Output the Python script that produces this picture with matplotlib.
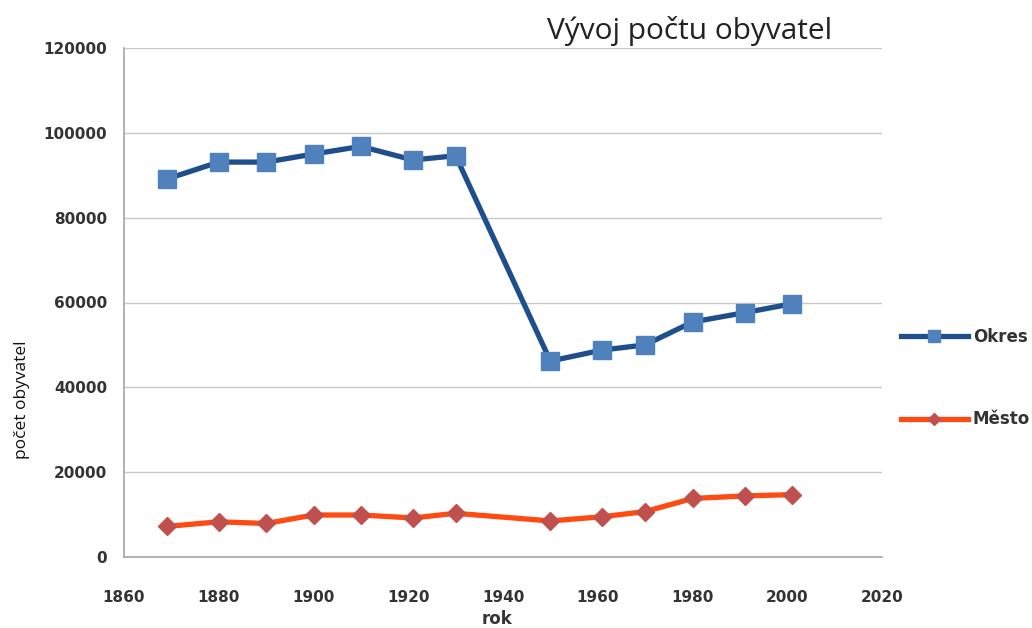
import matplotlib
matplotlib.use("Agg")
import matplotlib.pyplot as plt
from matplotlib.lines import Line2D

years = [1869, 1880, 1890, 1900, 1910, 1921, 1930, 1950, 1961, 1970, 1980, 1991, 2001]
okres = [89100, 93100, 93100, 95000, 96800, 93600, 94600, 46200, 48800, 50000, 55400, 57600, 59700]
mesto = [7200, 8300, 7900, 9900, 9900, 9200, 10300, 8500, 9500, 10700, 13800, 14400, 14700]
x_ticks = [1860, 1880, 1900, 1920, 1940, 1960, 1980, 2000, 2020]
y_ticks = [0, 20000, 40000, 60000, 80000, 100000, 120000]

title = "Vývoj počtu obyvatel"
xlabel = "rok"
ylabel = "počet obyvatel"
series_names = ["Okres", "Město"]

plt.rcParams['font.family'] = ['DejaVu Sans']

fig = plt.figure(figsize=(10.32, 6.28), dpi=100)
ax = fig.add_axes([124/1032, 1-557/628, (882-124)/1032, (557-48)/628])

okres_line = "#1f4e8c"
okres_marker = "#4f81bd"
mesto_line = "#ff4a12"
mesto_marker = "#c0504d"

ax.plot(years, okres, color=okres_line, lw=3.8, marker='s', markersize=13,
        markerfacecolor=okres_marker, markeredgecolor=okres_marker, zorder=3)
ax.plot(years, mesto, color=mesto_line, lw=3.8, marker='D', markersize=9,
        markerfacecolor=mesto_marker, markeredgecolor=mesto_marker, zorder=3)

ax.set_xlim(1860, 2020)
ax.set_ylim(0, 120000)
ax.set_xticks(x_ticks)
ax.set_yticks(y_ticks)
ax.set_xticklabels([str(t) for t in x_ticks])
ax.set_yticklabels([str(t) for t in y_ticks])
ax.tick_params(axis='both', length=0, labelsize=11, labelcolor="#333333")
ax.tick_params(axis='x', pad=24)
ax.tick_params(axis='y', pad=12)
for lab in ax.get_xticklabels() + ax.get_yticklabels():
    lab.set_fontweight('bold')
ax.yaxis.grid(True, color="#c8c8c8", lw=1)
ax.set_axisbelow(True)
for side in ['left', 'bottom']:
    ax.spines[side].set_color("#a6a6a6")
    ax.spines[side].set_linewidth(1.2)
for side in ['top', 'right']:
    ax.spines[side].set_visible(False)

fig.text(690/1032, 1-31/628, title, ha='center', va='center', fontsize=21.5,
         color="#222222", family=['Open Sans', 'DejaVu Sans'])
fig.text(22/1032, 1-400/628, ylabel, ha='center', va='center', rotation=90,
         fontsize=12.5, color="#111111", family=['Open Sans', 'DejaVu Sans'])
fig.text(497/1032, 1-619/628, xlabel, ha='center', va='center',
         fontsize=12, fontweight='bold', color="#333333")

handles = [
    Line2D([0], [0], color=okres_line, lw=3.8, marker='s', markersize=8,
           markerfacecolor=okres_marker, markeredgecolor=okres_marker),
    Line2D([0], [0], color=mesto_line, lw=3.8, marker='D', markersize=6,
           markerfacecolor=mesto_marker, markeredgecolor=mesto_marker),
]
fig.legend(handles, series_names, loc='center left',
           bbox_to_anchor=(886/1032, 1-378/628), frameon=False,
           handlelength=4.0, handletextpad=0.3, labelspacing=3.9,
           prop={'size': 12, 'weight': 'bold'}, labelcolor="#333333")

fig.savefig("out.png", dpi=100)
